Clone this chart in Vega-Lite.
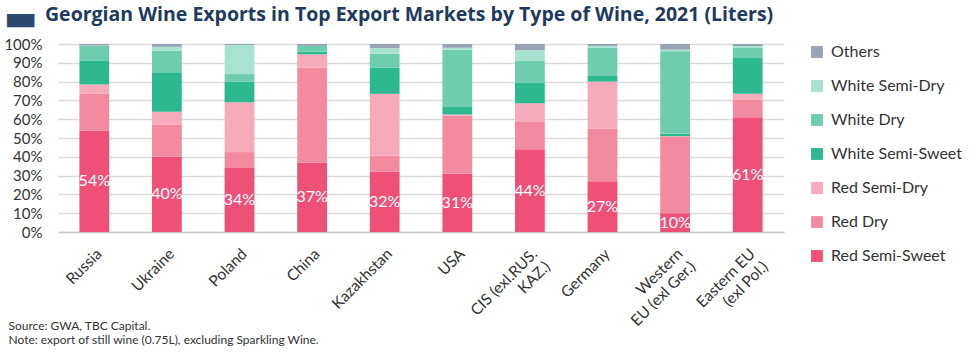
{
  "$schema": "https://vega.github.io/schema/vega-lite/v6.json",
  "width": 726,
  "height": 188,
  "autosize": {"type": "none"},
  "padding": {"left": 58, "top": 44, "right": 189, "bottom": 122},
  "background": "white",
  "title": {
    "text": "Georgian Wine Exports in Top Export Markets by Type of Wine, 2021 (Liters)",
    "anchor": "start",
    "frame": "group",
    "font": "Open Sans",
    "fontSize": 19.5,
    "fontWeight": "bold",
    "color": "#1F3A60",
    "dx": -13,
    "dy": 41,
    "offset": 16
  },
  "config": {
    "view": {"stroke": null},
    "font": "Lato"
  },
  "resolve": {"axis": {"y": "independent"}},
  "data": {
    "values": [
      {"market": "Russia", "type": "Red Semi-Sweet", "value": 54},
      {"market": "Russia", "type": "Red Dry", "value": 19.5},
      {"market": "Russia", "type": "Red Semi-Dry", "value": 5},
      {"market": "Russia", "type": "White Semi-Sweet", "value": 12.5},
      {"market": "Russia", "type": "White Dry", "value": 8},
      {"market": "Russia", "type": "White Semi-Dry", "value": 0.2},
      {"market": "Russia", "type": "Others", "value": 0.8},
      {"market": "Ukraine", "type": "Red Semi-Sweet", "value": 40},
      {"market": "Ukraine", "type": "Red Dry", "value": 17},
      {"market": "Ukraine", "type": "Red Semi-Dry", "value": 7},
      {"market": "Ukraine", "type": "White Semi-Sweet", "value": 21},
      {"market": "Ukraine", "type": "White Dry", "value": 11.5},
      {"market": "Ukraine", "type": "White Semi-Dry", "value": 2},
      {"market": "Ukraine", "type": "Others", "value": 1.5},
      {"market": "Poland", "type": "Red Semi-Sweet", "value": 34},
      {"market": "Poland", "type": "Red Dry", "value": 8.5},
      {"market": "Poland", "type": "Red Semi-Dry", "value": 26.5},
      {"market": "Poland", "type": "White Semi-Sweet", "value": 11},
      {"market": "Poland", "type": "White Dry", "value": 4},
      {"market": "Poland", "type": "White Semi-Dry", "value": 15.5},
      {"market": "Poland", "type": "Others", "value": 0.5},
      {"market": "China", "type": "Red Semi-Sweet", "value": 37},
      {"market": "China", "type": "Red Dry", "value": 50.5},
      {"market": "China", "type": "Red Semi-Dry", "value": 7},
      {"market": "China", "type": "White Semi-Sweet", "value": 1.5},
      {"market": "China", "type": "White Dry", "value": 3},
      {"market": "China", "type": "White Semi-Dry", "value": 0},
      {"market": "China", "type": "Others", "value": 1},
      {"market": "Kazakhstan", "type": "Red Semi-Sweet", "value": 32},
      {"market": "Kazakhstan", "type": "Red Dry", "value": 8.5},
      {"market": "Kazakhstan", "type": "Red Semi-Dry", "value": 33},
      {"market": "Kazakhstan", "type": "White Semi-Sweet", "value": 14},
      {"market": "Kazakhstan", "type": "White Dry", "value": 7.3},
      {"market": "Kazakhstan", "type": "White Semi-Dry", "value": 3},
      {"market": "Kazakhstan", "type": "Others", "value": 2.2},
      {"market": "USA", "type": "Red Semi-Sweet", "value": 31},
      {"market": "USA", "type": "Red Dry", "value": 31},
      {"market": "USA", "type": "Red Semi-Dry", "value": 0.5},
      {"market": "USA", "type": "White Semi-Sweet", "value": 4},
      {"market": "USA", "type": "White Dry", "value": 30.5},
      {"market": "USA", "type": "White Semi-Dry", "value": 1},
      {"market": "USA", "type": "Others", "value": 2},
      {"market": "CIS (exl.RUS.\nKAZ.)", "type": "Red Semi-Sweet", "value": 44},
      {"market": "CIS (exl.RUS.\nKAZ.)", "type": "Red Dry", "value": 14.5},
      {"market": "CIS (exl.RUS.\nKAZ.)", "type": "Red Semi-Dry", "value": 10},
      {"market": "CIS (exl.RUS.\nKAZ.)", "type": "White Semi-Sweet", "value": 11},
      {"market": "CIS (exl.RUS.\nKAZ.)", "type": "White Dry", "value": 11.5},
      {"market": "CIS (exl.RUS.\nKAZ.)", "type": "White Semi-Dry", "value": 5.7},
      {"market": "CIS (exl.RUS.\nKAZ.)", "type": "Others", "value": 3.3},
      {"market": "Germany", "type": "Red Semi-Sweet", "value": 27},
      {"market": "Germany", "type": "Red Dry", "value": 28},
      {"market": "Germany", "type": "Red Semi-Dry", "value": 25},
      {"market": "Germany", "type": "White Semi-Sweet", "value": 3},
      {"market": "Germany", "type": "White Dry", "value": 15},
      {"market": "Germany", "type": "White Semi-Dry", "value": 1},
      {"market": "Germany", "type": "Others", "value": 1},
      {"market": "Western\nEU (exl Ger.)", "type": "Red Semi-Sweet", "value": 10},
      {"market": "Western\nEU (exl Ger.)", "type": "Red Dry", "value": 40.5},
      {"market": "Western\nEU (exl Ger.)", "type": "Red Semi-Dry", "value": 0.5},
      {"market": "Western\nEU (exl Ger.)", "type": "White Semi-Sweet", "value": 1.2},
      {"market": "Western\nEU (exl Ger.)", "type": "White Dry", "value": 44},
      {"market": "Western\nEU (exl Ger.)", "type": "White Semi-Dry", "value": 0.8},
      {"market": "Western\nEU (exl Ger.)", "type": "Others", "value": 3},
      {"market": "Eastern EU\n(exl Pol.)", "type": "Red Semi-Sweet", "value": 61},
      {"market": "Eastern EU\n(exl Pol.)", "type": "Red Dry", "value": 9.5},
      {"market": "Eastern EU\n(exl Pol.)", "type": "Red Semi-Dry", "value": 3},
      {"market": "Eastern EU\n(exl Pol.)", "type": "White Semi-Sweet", "value": 19},
      {"market": "Eastern EU\n(exl Pol.)", "type": "White Dry", "value": 5.4},
      {"market": "Eastern EU\n(exl Pol.)", "type": "White Semi-Dry", "value": 1},
      {"market": "Eastern EU\n(exl Pol.)", "type": "Others", "value": 1.1}
    ]
  },
  "encoding": {
    "x": {
      "field": "market",
      "type": "nominal",
      "sort": null,
      "scale": {"paddingInner": 0.59},
      "axis": {
        "labelAngle": -45,
        "labelExpr": "split(datum.value, '\\n')",
        "labelFont": "Lato",
        "labelFontSize": 15.5,
        "labelColor": "#333333",
        "labelPadding": 14,
        "labelLineHeight": 18,
        "ticks": false,
        "domainColor": "#CCCCCC",
        "domainWidth": 1.5,
        "title": ["Source: GWA, TBC Capital.", "Note: export of still wine (0.75L), excluding Sparkling Wine."],
        "titleFont": "Lato",
        "titleFontSize": 12,
        "titleFontWeight": "normal",
        "titleColor": "#333333",
        "titleAnchor": "start",
        "titleAlign": "left",
        "titleBaseline": "alphabetic",
        "titleLineHeight": 14,
        "titleX": -50,
        "titleY": 97
      }
    }
  },
  "layer": [
    {
      "transform": [
        {"calculate": "indexof(['Red Semi-Sweet', 'Red Dry', 'Red Semi-Dry', 'White Semi-Sweet', 'White Dry', 'White Semi-Dry', 'Others'], datum.type)", "as": "rank"}
      ],
      "mark": {"type": "bar"},
      "encoding": {
        "y": {
          "field": "value",
          "type": "quantitative",
          "stack": "zero",
          "scale": {"domain": [0, 100]},
          "axis": {
            "title": "▬",
            "titleFont": "DejaVu Sans",
            "titleFontSize": 36,
            "titleFontWeight": "normal",
            "titleColor": "#2C4A70",
            "titleAngle": 0,
            "titleAlign": "center",
            "titleBaseline": "middle",
            "titleX": -38,
            "titleY": -25.5,
            "values": [0, 10, 20, 30, 40, 50, 60, 70, 80, 90, 100],
            "labelExpr": "datum.value + '%'",
            "labelOverlap": false,
            "labelFont": "Lato",
            "labelFontSize": 15,
            "labelColor": "#333333",
            "labelPadding": 16,
            "ticks": false,
            "domain": false,
            "grid": true,
            "gridColor": "#DADADA",
            "gridWidth": 1.5
          }
        },
        "order": {"field": "rank", "type": "quantitative", "sort": "ascending"},
        "color": {
          "field": "type",
          "type": "nominal",
          "scale": {
            "domain": ["Others", "White Semi-Dry", "White Dry", "White Semi-Sweet", "Red Semi-Dry", "Red Dry", "Red Semi-Sweet"],
            "range": ["#98A3B4", "#A8E2D0", "#6ECDAE", "#2DB88F", "#F6AABB", "#F38BA0", "#EE5078"]
          },
          "legend": {
            "title": null,
            "orient": "right",
            "offset": 25,
            "symbolType": "square",
            "symbolSize": 140,
            "symbolStrokeWidth": 0,
            "labelFont": "Lato",
            "labelFontSize": 16,
            "labelColor": "#333333",
            "labelOffset": 6,
            "rowPadding": 18
          }
        }
      }
    },
    {
      "transform": [
        {"filter": "datum.type === 'Red Semi-Sweet'"},
        {"calculate": "datum.value / 2", "as": "mid"},
        {"calculate": "datum.value + '%'", "as": "label"}
      ],
      "mark": {"type": "text", "color": "white", "font": "Lato", "fontSize": 16, "baseline": "middle"},
      "encoding": {
        "y": {"field": "mid", "type": "quantitative", "axis": null},
        "text": {"field": "label"}
      }
    }
  ]
}
